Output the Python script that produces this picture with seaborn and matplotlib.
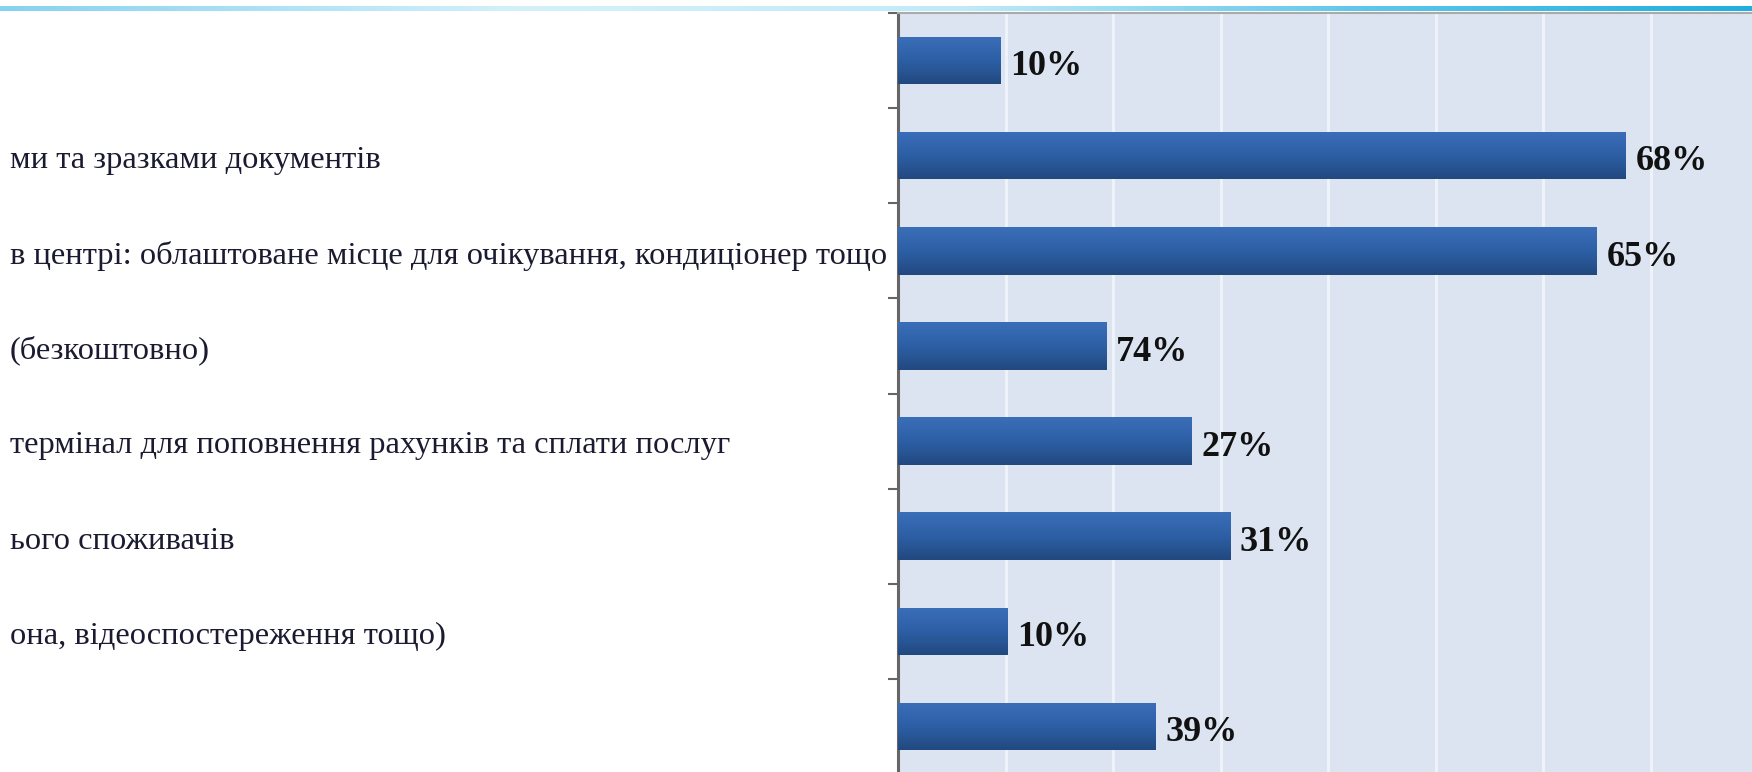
import numpy as np
import pandas as pd
import matplotlib
matplotlib.use("Agg")
import matplotlib.pyplot as plt
import seaborn as sns
from matplotlib.colors import LinearSegmentedColormap
from matplotlib.transforms import blended_transform_factory

# ---- data ----
categories = [
    "",
    "ми та зразками документів",
    "в центрі: облаштоване місце для очікування, кондиціонер тощо",
    "(безкоштовно)",
    "термінал для поповнення рахунків та сплати послуг",
    "ього споживачів",
    "она, відеоспостереження тощо)",
    "",
]
bar_values = [9.5, 67.7, 65.0, 19.4, 27.3, 30.9, 10.2, 24.0]
value_labels = ["10%", "68%", "65%", "74%", "27%", "31%", "10%", "39%"]

W, H = 1752, 772

sns.set_style("white")
plt.rcParams["font.family"] = ["Liberation Serif", "DejaVu Serif"]

fig = plt.figure(figsize=(W / 100, H / 100), dpi=100)
fig.patch.set_facecolor("white")

# top decorative cyan band
bax = fig.add_axes([0, (H - 11) / H, 1, 5 / H])
band_cmap = LinearSegmentedColormap.from_list(
    "band", [(0, "#86d2f1"), (0.3, "#d4f1fa"), (0.55, "#c0eaf8"), (0.78, "#5fc6eb"), (1, "#1eafe0")])
bax.imshow(np.linspace(0, 1, 512)[None, :], aspect="auto", cmap=band_cmap)
bax.axis("off")

ax = fig.add_axes([898 / W, -2 / H, (W - 898) / W, 761 / H])
ax.set_facecolor("#dbe4f0")

df = pd.DataFrame({"row": [str(i) for i in range(len(bar_values))], "value": bar_values})
sns.barplot(data=df, x="value", y="row", orient="h", width=0.5, color="#2d5fa6",
            saturation=1, ax=ax, zorder=3)

# vertical gradient on each bar
bar_cmap = LinearSegmentedColormap.from_list("bar", ["#3a6eb8", "#2d5fa6", "#22497f"])
grad = np.linspace(0, 1, 64)[:, None]
for p in list(ax.patches):
    x0, y0, w, h = p.get_x(), p.get_y(), p.get_width(), p.get_height()
    p.set_edgecolor("none")
    im = ax.imshow(grad, extent=(x0, x0 + w, y0 + h, y0), aspect="auto", cmap=bar_cmap,
                   zorder=3.1, interpolation="bilinear")
    im.set_clip_path(p)

xmax = (W - 898) / 10.75
ax.set_xlim(0, xmax)
ax.set_ylim(len(bar_values) - 0.5, -0.5)
ax.set_aspect("auto")

ax.set_xticks(np.arange(0, 80, 10))
ax.xaxis.grid(True, color="#eef3fa", lw=2.2)
ax.set_axisbelow(True)
ax.tick_params(axis="x", length=0, labelbottom=False)
ax.set_yticks(np.arange(-0.5, len(bar_values), 1))
ax.set_yticklabels([])
ax.tick_params(axis="y", length=7.5, width=1.5, color="#666666", direction="out", left=True)
ax.set_xlabel("")
ax.set_ylabel("")

for s in ["right", "bottom"]:
    ax.spines[s].set_visible(False)
ax.spines["left"].set_color("#666666")
ax.spines["left"].set_linewidth(2.2)
ax.spines["top"].set_color("#aaaaaa")
ax.spines["top"].set_linewidth(1.5)

# value labels
for i, (v, lab) in enumerate(zip(bar_values, value_labels)):
    ax.annotate(lab, (v, i), xytext=(7, -4.5), textcoords="offset points", ha="left", va="center",
                fontsize=26, fontweight="bold", color="#111111", zorder=5)

# category labels (left part of the slide is cut off)
trans = blended_transform_factory(fig.transFigure, ax.transData)
for i, lab in enumerate(categories):
    if not lab:
        continue
    ax.annotate(lab, (10 / W, i), xycoords=trans, xytext=(0, -3.5), textcoords="offset points",
                ha="left", va="center", fontsize=23.4, color="#1a1a30", annotation_clip=False)

fig.savefig("out.png", dpi=100, facecolor=fig.get_facecolor())
